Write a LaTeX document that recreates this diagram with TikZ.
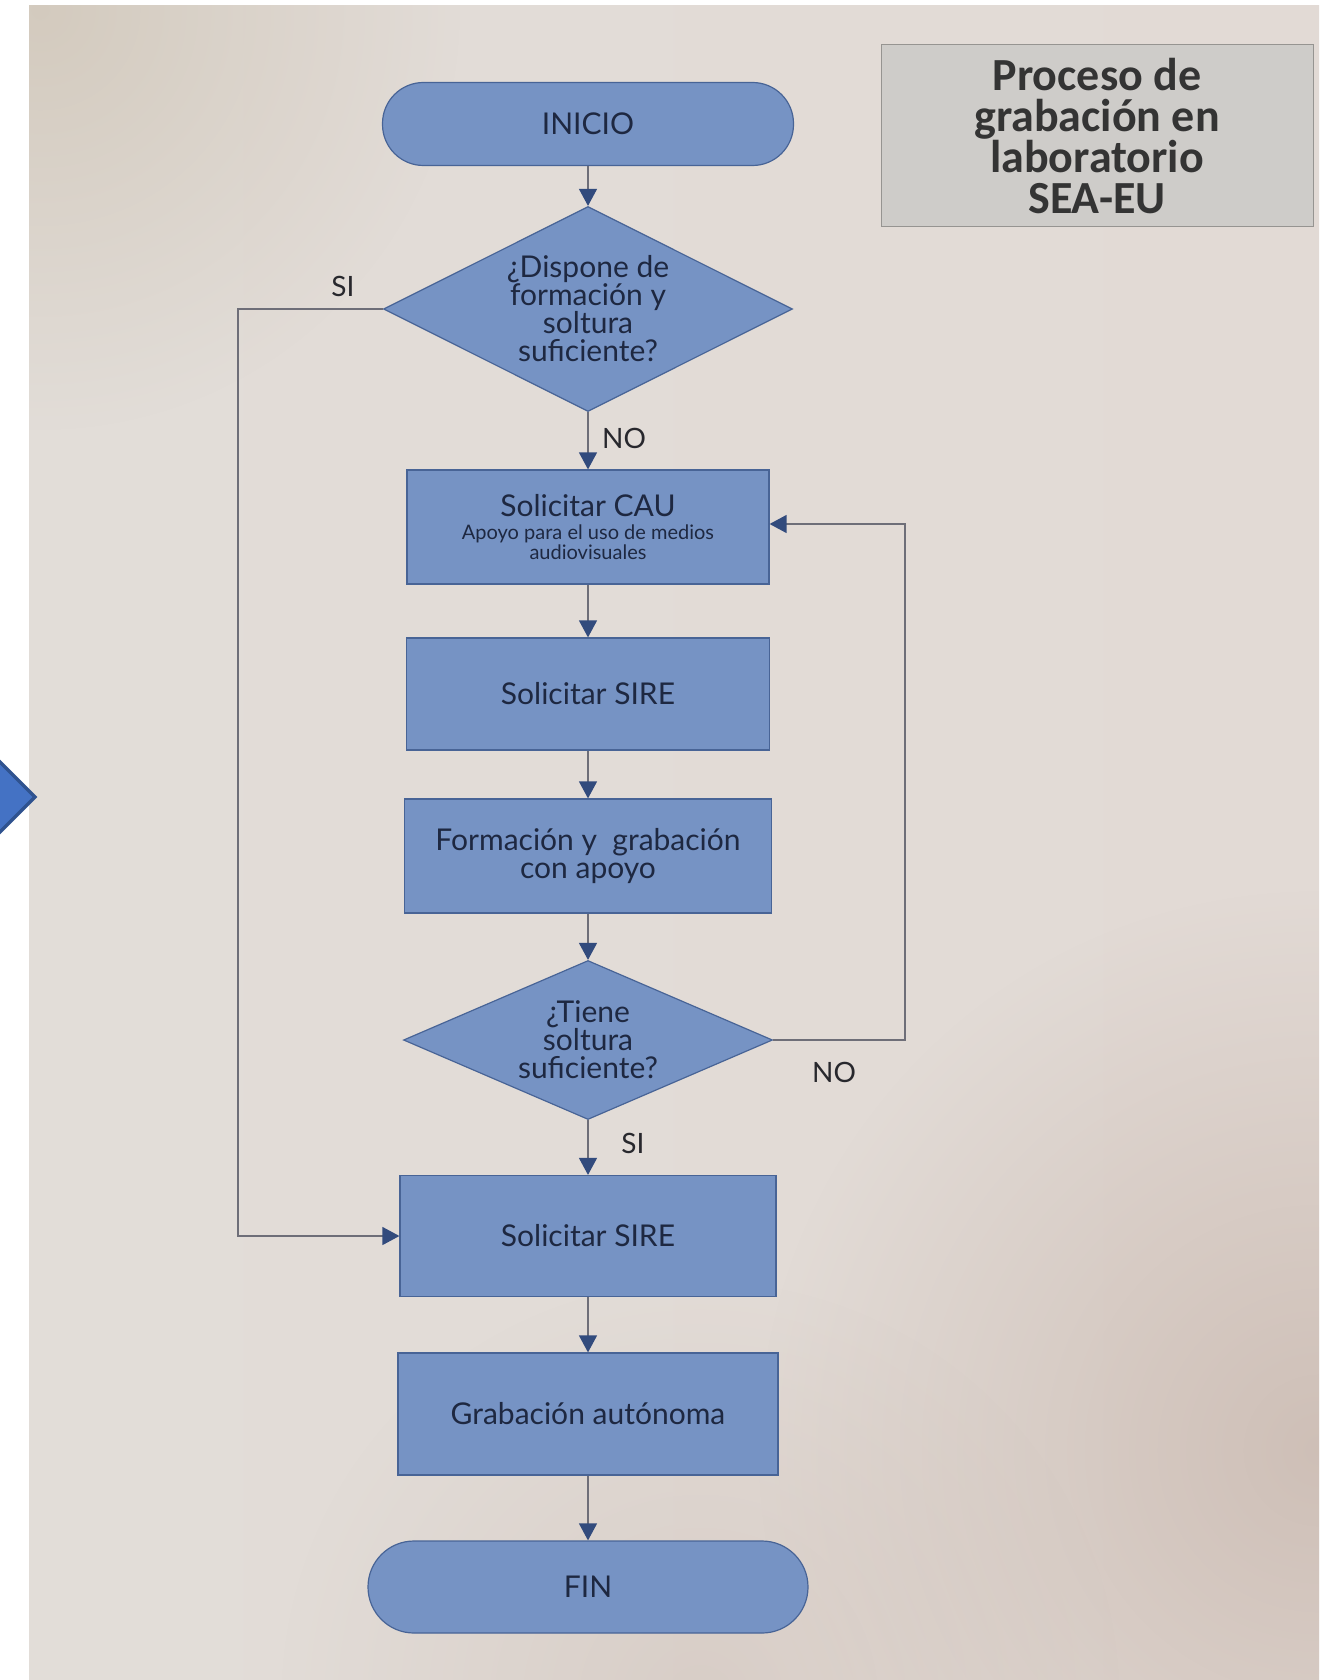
\documentclass[tikz,border=0pt]{standalone}
\usepackage{fontspec}
\setmainfont{Lato}
\newfontfamily\titlefont{Carlito}
\usetikzlibrary{shapes.geometric,arrows.meta,calc,fadings}
\definecolor{boxblue}{RGB}{118,147,196}
\definecolor{boxedge}{RGB}{72,100,150}
\definecolor{txt}{RGB}{30,40,65}
\definecolor{linegray}{RGB}{110,110,120}
\definecolor{tipblue}{RGB}{50,75,125}
\definecolor{titlegray}{RGB}{206,204,201}
\definecolor{titleedge}{RGB}{150,148,145}
\definecolor{titletxt}{RGB}{52,52,52}
\definecolor{chevfill}{RGB}{68,114,196}
\definecolor{chevedge}{RGB}{47,82,143}
\definecolor{paperL}{RGB}{226,221,216}
\definecolor{paperM}{RGB}{234,231,229}
\definecolor{paperR}{RGB}{226,218,213}
\definecolor{beigeTL}{RGB}{208,198,184}
\definecolor{pinkBR}{RGB}{198,180,170}
\definecolor{lbl}{RGB}{40,40,45}
\tikzfading[name=softcirc, inner color=transparent!0, outer color=transparent!100]
\tikzfading[name=softband, top color=transparent!100, middle color=transparent!0, bottom color=transparent!100]
\begin{document}
\begin{tikzpicture}[x=1pt,y=-1pt,
  base/.style={fill=boxblue, draw=boxedge, line width=1.2pt, text=txt, align=center,
    font=\fontsize{30}{28}\selectfont, inner sep=0pt},
  procbox/.style={base, rectangle},
  termbox/.style={base, rectangle},
  decision/.style={base, diamond, shape aspect=2},
  conn/.style={draw=linegray, line width=1.3pt, -{Triangle[length=17pt,width=18pt,color=tipblue]}},
  lab/.style={text=lbl, font=\fontsize{28}{28}\selectfont, inner sep=0pt},
  titlebox/.style={fill=titlegray, draw=titleedge, line width=1pt, text=titletxt, align=center,
    font=\titlefont\bfseries\fontsize{46}{41}\selectfont, inner sep=0pt}
]
\useasboundingbox (0,0) rectangle (1319,1680);
\clip (0,0) rectangle (1319,1680);
% background: white margin and photographed paper
\fill[white] (0,0) rectangle (1319,1680);
\begin{scope}
  \clip (29,6) rectangle (1319,1680);
  \shade[left color=paperL, middle color=paperM, right color=paperR] (29,6) rectangle (1319,1680);
  \fill[beigeTL, path fading=softcirc, opacity=0.8] (40,10) circle (420);
  \fill[pinkBR, path fading=softcirc, opacity=0.7] (1319,1450) circle (560);
  \fill[pinkBR, path fading=softcirc, opacity=0.35] (700,1700) circle (420);
  % fold crease (soft bands)
  \fill[beigeTL, path fading=softband, opacity=0.45] (29,740) rectangle (1319,815);
  \fill[white, path fading=softband, opacity=0.7] (29,812) rectangle (1319,868);
\end{scope}
% partial chevron at left edge
\draw[fill=chevfill, draw=chevedge, line width=3.5pt] (-120,758) -- (-4,758) -- (35,797) -- (-4,836) -- (-120,836) -- cycle;

% title
\node[titlebox, minimum width=432pt, minimum height=182pt] (title) at (1097,136)
  {Proceso de\\grabación en\\laboratorio\\SEA-EU};

% nodes
\node[termbox, rounded corners=41pt, minimum width=411pt, minimum height=83pt] (inicio) at (588,124) {INICIO};
\node[decision, minimum width=409pt, minimum height=205pt] (d1) at (588,309)
  {¿Dispone de\\formación y\\soltura\\suficiente?};
\node[procbox, minimum width=362pt, minimum height=114pt] (cau) at (588,527)
  {Solicitar CAU\\[-5pt]{\fontsize{20}{21}\selectfont Apoyo para el uso de medios}\\[-8pt]{\fontsize{20}{21}\selectfont audiovisuales}};
\node[procbox, minimum width=363pt, minimum height=112pt] (sire1) at (588,694) {Solicitar SIRE};
\node[procbox, minimum width=367pt, minimum height=114pt] (form) at (588,856)
  {Formación y\ \ grabación\\con apoyo};
\node[decision, minimum width=369pt, minimum height=159pt] (d2) at (588,1040)
  {¿Tiene\\soltura\\suficiente?};
\node[procbox, minimum width=376pt, minimum height=121pt] (sire2) at (588,1236) {Solicitar SIRE};
\node[procbox, minimum width=380pt, minimum height=122pt] (grab) at (588,1414) {Grabación autónoma};
\node[termbox, rounded corners=46pt, minimum width=440pt, minimum height=92pt] (fin) at (588,1587) {FIN};

% labels
\node[lab] (siA) at (343,286) {SI};
\node[lab] (noA) at (624,438) {NO};
\node[lab] (noB) at (834,1072) {NO};
\node[lab] (siB) at (633,1143) {SI};

% helper coordinates
\coordinate (lx) at (238,0);
\coordinate (rx) at (905,0);

% connectors
\draw[conn] (inicio) -- (d1);
\draw[conn] (d1) -- (cau);
\draw[conn] (cau) -- (sire1);
\draw[conn] (sire1) -- (form);
\draw[conn] (form) -- (d2);
\draw[conn] (d2) -- (sire2);
\draw[conn] (sire2) -- (grab);
\draw[conn] (grab) -- (fin);
\draw[conn] (d1.west) -- (d1.west -| lx) |- (sire2.west);
\draw[conn] (d2.east) -- (d2.east -| rx) |- ($(cau.east)+(0,-3)$);
\end{tikzpicture}
\end{document}
